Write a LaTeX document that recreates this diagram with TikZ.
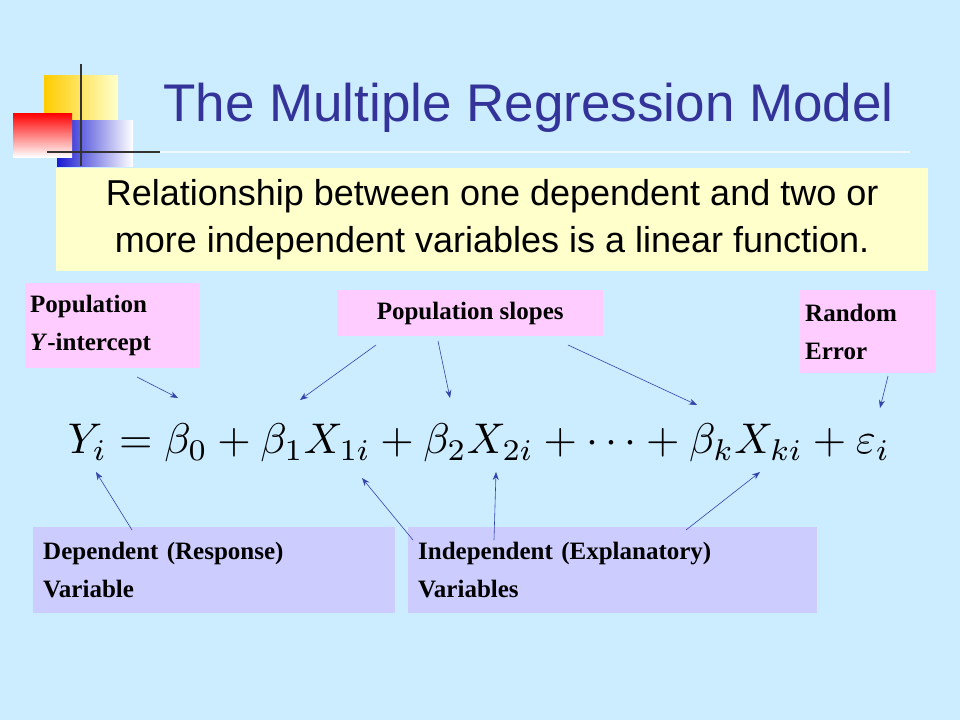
\documentclass[tikz,border=0pt]{standalone}
\usepackage{fontspec}
\usepackage{graphicx}
\setmainfont{Liberation Serif}
\setsansfont{Liberation Sans}
\usetikzlibrary{arrows.meta}
\definecolor{bg}{HTML}{CCECFF}
\definecolor{ttl}{HTML}{333399}
\definecolor{pinkb}{HTML}{FFCCFF}
\definecolor{lavb}{HTML}{CCCCFF}
\definecolor{yelb}{HTML}{FFFFCC}
\definecolor{arr}{HTML}{3344AA}
\definecolor{gold}{HTML}{FFCC00}
\tikzset{
 lbl/.style={fill=pinkb,font=\fontsize{25}{38}\selectfont\bfseries,align=left,inner sep=0pt,anchor=north west},
 lbl2/.style={fill=lavb,font=\fontsize{25}{38}\selectfont\bfseries,align=left,inner sep=0pt,anchor=north west},
 ar/.style={draw=arr,line width=0.6pt,-{Stealth[length=8pt,width=6pt]}}
}
\begin{document}
\begin{tikzpicture}[x=1pt,y=-1pt]
\fill[bg] (0,0) rectangle (960,720);
\useasboundingbox (0,0) rectangle (960,720);
% logo
\shade[left color=gold,right color=yelb] (44,75) rectangle (118,122);
\shade[left color=blue!80!black!90,right color=white] (57,120) rectangle (133,166);
\shade[shading angle=225,top color=red,bottom color=white] (13,113) rectangle (72,157);
\draw[line width=2pt,black!80] (81,64) -- (81,166);
\draw[line width=2pt,black!80] (47,152) -- (160,152);
\draw[white!70!bg,line width=1.5pt] (160,152) -- (910,152);
\node[font=\sffamily\fontsize{53}{58}\selectfont,text=ttl,anchor=west,inner sep=0pt] (t) at (163,108) {The Multiple Regression Model};
\node[fill=yelb,minimum width=872,minimum height=103,anchor=north west,inner sep=0pt,align=center,font=\sffamily\fontsize{36}{47}\selectfont] (y) at (56,168) {Relationship between one dependent and two or\\more independent variables is a linear function.};
\node[lbl,minimum width=175,minimum height=85,text width=165,inner xsep=5pt,inner ysep=3pt] (pi) at (25,283) {Population\\\textit{Y}-intercept};
\node[lbl,minimum width=266,minimum height=46,align=center] (ps) at (337,290) {Population slopes};
\node[lbl,minimum width=136,minimum height=83,text width=126,inner xsep=5pt,inner ysep=3pt] (re) at (800,290) {Random\\Error};
\node[lbl2,minimum width=352,minimum height=86,text width=342,inner xsep=10pt,inner ysep=3pt] (dv) at (33,527) {Dependent (Response)\\Variable};
\node[lbl2,minimum width=399,minimum height=86,text width=389,inner xsep=10pt,inner ysep=3pt] (iv) at (408,527) {Independent (Explanatory)\\Variables};
\node[inner sep=0pt] (eq) at (479,443) {\resizebox{822pt}{!}{$Y_i=\beta_0+\beta_1X_{1i}+\beta_2X_{2i}+\cdots+\beta_kX_{ki}+\varepsilon_i$}};
\coordinate (a1) at (178,398); \coordinate (a2) at (300,400); \coordinate (a3) at (450,398);
\coordinate (a4) at (697,405); \coordinate (a5) at (880,408); \coordinate (a6) at (96,472);
\coordinate (a7) at (362,478); \coordinate (a8) at (496,472); \coordinate (a9) at (760,472);
\coordinate (s1) at (137,377); \coordinate (s2) at (376,345); \coordinate (s3) at (438,341);
\coordinate (s4) at (568,345); \coordinate (s5) at (888,376); \coordinate (s6) at (132,530);
\coordinate (s7) at (413,540); \coordinate (s8) at (494,540); \coordinate (s9) at (686,530);
\foreach \i in {1,...,9} \draw[ar] (s\i) -- (a\i);
\end{tikzpicture}
\end{document}
